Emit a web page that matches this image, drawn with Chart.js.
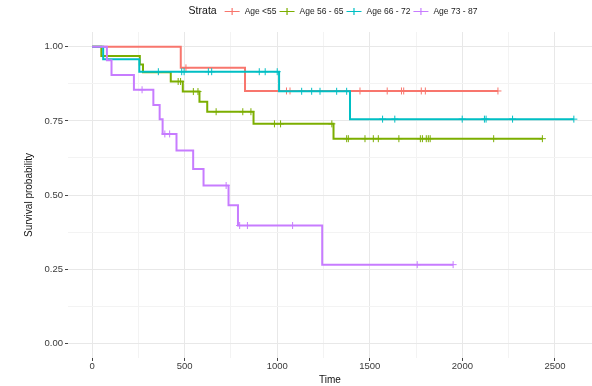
<!DOCTYPE html>
<html>
<head>
<meta charset="utf-8">
<script src="https://cdn.jsdelivr.net/npm/chart.js@4/dist/chart.umd.min.js"></script>
<style>
  html, body { margin: 0; padding: 0; background: #ffffff; }
  #wrap { width: 592px; height: 386px; }
</style>
</head>
<body>
<div id="wrap"><canvas id="km" width="592" height="386"></canvas></div>
<script>
// Kaplan-Meier survival estimates by age group.
// Each group: follow-up times, survival probability at that time,
// and a flag marking censored observations (drawn as "+").
const strata = ['Age <55', 'Age 56 - 65', 'Age 66 - 72', 'Age 73 - 87'];

const timesLt55 = [0, 479, 507, 826, 1050, 1069, 1447, 1594, 1671, 1683, 1778, 1800, 2192];
const survLt55  = [1, 0.929, 0.929, 0.851, 0.851, 0.851, 0.851, 0.851, 0.851, 0.851, 0.851, 0.851, 0.851];
const censLt55  = [0, 0, 1, 0, 1, 1, 1, 1, 1, 1, 1, 1, 1];

const times56to65 = [0, 50, 258, 275, 425, 465, 478, 490, 547, 572, 580, 622, 670, 814, 858, 872, 985, 1018,
                     1295, 1304, 1375, 1384, 1474, 1519, 1546, 1657, 1773, 1784, 1805, 1816, 1826, 2169, 2432];
const surv56to65  = [1, 0.969, 0.94, 0.914, 0.883, 0.883, 0.883, 0.849, 0.849, 0.849, 0.815, 0.781, 0.781, 0.781, 0.781, 0.74, 0.74, 0.74,
                     0.74, 0.69, 0.69, 0.69, 0.69, 0.69, 0.69, 0.69, 0.69, 0.69, 0.69, 0.69, 0.69, 0.69, 0.69];
const cens56to65  = [0, 0, 0, 0, 0, 1, 1, 0, 1, 1, 0, 0, 1, 1, 1, 0, 1, 1,
                     1, 0, 1, 1, 1, 1, 1, 1, 1, 1, 1, 1, 1, 1, 1];

const times66to72 = [0, 60, 255, 358, 484, 497, 628, 646, 903, 935, 1000, 1010, 1132, 1186, 1231, 1321, 1375,
                     1393, 1569, 1635, 1999, 2119, 2128, 2271, 2602];
const surv66to72  = [1, 0.958, 0.916, 0.916, 0.916, 0.916, 0.916, 0.916, 0.916, 0.916, 0.916, 0.85, 0.85, 0.85, 0.85, 0.85, 0.85,
                     0.756, 0.756, 0.756, 0.756, 0.756, 0.756, 0.756, 0.756];
const cens66to72  = [0, 0, 0, 1, 1, 1, 1, 1, 1, 1, 1, 0, 1, 1, 1, 1, 1,
                     0, 1, 1, 1, 1, 1, 1, 1];

const times73to87 = [0, 80, 105, 226, 270, 331, 365, 381, 393, 419, 456, 546, 602, 724, 737, 788, 797, 839, 1083, 1243, 1756, 1950];
const surv73to87  = [1, 0.955, 0.905, 0.855, 0.855, 0.804, 0.756, 0.706, 0.706, 0.706, 0.65, 0.588, 0.532, 0.532, 0.465, 0.397, 0.397, 0.397, 0.397, 0.265, 0.265, 0.265];
const cens73to87  = [0, 0, 0, 0, 1, 0, 0, 0, 1, 1, 0, 0, 0, 1, 0, 0, 1, 1, 1, 0, 1, 1];

// Axis ticks: labelled (major) and unlabelled (minor) positions
const xMajorTicks = [0, 500, 1000, 1500, 2000, 2500];
const xMinorTicks = [250, 750, 1250, 1750, 2250];
const yMajorTicks = [0, 0.25, 0.5, 0.75, 1];
const yMinorTicks = [0.125, 0.375, 0.625, 0.875];

const groupColors = ['#F8766D', '#7CAE00', '#00BFC4', '#C77CFF'];

const groups = [
  [timesLt55, survLt55, censLt55],
  [times56to65, surv56to65, cens56to65],
  [times66to72, surv66to72, cens66to72],
  [times73to87, surv73to87, cens73to87]
];

const FONT = '"Liberation Sans", Arial, Helvetica, sans-serif';
Chart.defaults.font.family = FONT;

const datasets = groups.map(([t, s, c], i) => ({
  label: strata[i],
  data: t.map((x, k) => ({ x: x, y: s[k] })),
  borderColor: groupColors[i],
  backgroundColor: groupColors[i],
  borderWidth: 2,
  stepped: true,
  fill: false,
  pointStyle: 'cross',
  pointRadius: c.map(v => (v ? 3.5 : 0)),
  pointBorderWidth: 1,
  pointBorderColor: groupColors[i],
  order: groups.length - i
}));

// Legend row drawn across the top: "Strata" title followed by line+cross keys
const strataLegend = {
  id: 'strataLegend',
  afterDraw(chart) {
    const ctx = chart.ctx;
    const sets = chart.data.datasets;
    const titleFont = '10.5px ' + FONT;
    const itemFont = '8.5px ' + FONT;
    const iconW = 15, titleGap = 8, iconGap = 5, itemGap = 3;
    ctx.save();
    ctx.font = titleFont;
    const tw = ctx.measureText('Strata').width;
    ctx.font = itemFont;
    const widths = sets.map(d => ctx.measureText(d.label).width);
    const total = tw + titleGap + widths.reduce((a, w) => a + iconW + iconGap + w, 0) + itemGap * (sets.length - 1);
    let x = 333 - total / 2;
    const y = 11.5;
    ctx.textBaseline = 'middle';
    ctx.textAlign = 'left';
    ctx.fillStyle = '#111111';
    ctx.font = titleFont;
    ctx.fillText('Strata', x, y);
    x += tw + titleGap;
    ctx.font = itemFont;
    sets.forEach((d, i) => {
      ctx.strokeStyle = d.borderColor;
      ctx.lineWidth = 1.2;
      ctx.beginPath();
      ctx.moveTo(x, y);
      ctx.lineTo(x + iconW, y);
      ctx.moveTo(x + iconW / 2, y - 3.5);
      ctx.lineTo(x + iconW / 2, y + 3.5);
      ctx.stroke();
      x += iconW + iconGap;
      ctx.fillStyle = '#222222';
      ctx.fillText(d.label, x, y);
      x += widths[i] + itemGap;
    });
    ctx.restore();
  }
};

const isMajor = (list, v) => list.some(m => Math.abs(m - v) < 1e-9);

new Chart(document.getElementById('km'), {
  type: 'line',
  data: { datasets: datasets },
  plugins: [strataLegend],
  options: {
    responsive: false,
    animation: false,
    events: [],
    layout: { autoPadding: false, padding: { top: 32, left: 0, right: 0, bottom: 0 } },
    plugins: {
      legend: { display: false },
      tooltip: { enabled: false }
    },
    scales: {
      x: {
        type: 'linear',
        min: -130,
        max: 2700,
        afterBuildTicks: s => { s.ticks = xMajorTicks.concat(xMinorTicks).sort((a, b) => a - b).map(v => ({ value: v })); },
        afterFit: s => { s.height = 28; s.paddingLeft = 0; s.paddingRight = 0; },
        border: { display: false },
        grid: {
          color: c => isMajor(xMajorTicks, c.tick.value) ? '#e8e8e8' : '#f3f3f3',
          lineWidth: 1,
          drawTicks: true,
          tickLength: 3,
          tickWidth: 1,
          tickColor: c => isMajor(xMajorTicks, c.tick.value) ? '#444444' : 'rgba(0,0,0,0)'
        },
        ticks: {
          autoSkip: false,
          maxRotation: 0,
          padding: 0,
          color: '#3a3a3a',
          font: { size: 9.5 },
          callback: v => isMajor(xMajorTicks, v) ? String(v) : ''
        },
        title: {
          display: true,
          text: 'Time',
          color: '#111111',
          font: { size: 10 },
          padding: { top: 0, bottom: 0 }
        }
      },
      y: {
        type: 'linear',
        min: -0.05,
        max: 1.05,
        afterBuildTicks: s => { s.ticks = yMajorTicks.concat(yMinorTicks).sort((a, b) => a - b).map(v => ({ value: v })); },
        afterFit: s => { s.width = 68; s.paddingTop = 0; s.paddingBottom = 0; },
        border: { display: false },
        grid: {
          color: c => isMajor(yMajorTicks, c.tick.value) ? '#e8e8e8' : '#f3f3f3',
          lineWidth: 1,
          drawTicks: true,
          tickLength: 3,
          tickWidth: 1,
          tickColor: c => isMajor(yMajorTicks, c.tick.value) ? '#444444' : 'rgba(0,0,0,0)'
        },
        ticks: {
          autoSkip: false,
          padding: 2,
          color: '#3a3a3a',
          font: { size: 9.5 },
          callback: v => isMajor(yMajorTicks, v) ? v.toFixed(2) : ''
        },
        title: {
          display: true,
          text: 'Survival probability',
          color: '#111111',
          font: { size: 10 },
          padding: { top: 23, bottom: 0 }
        }
      }
    }
  }
});
</script>
</body>
</html>
